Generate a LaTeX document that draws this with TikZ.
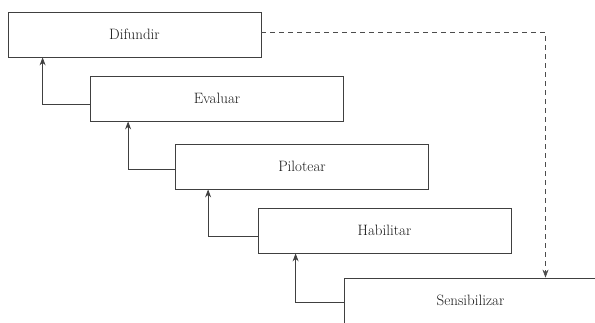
\documentclass[tikz,border=0pt]{standalone}
\usetikzlibrary{arrows.meta}
\begin{document}
\begin{tikzpicture}[
        x=1pt, y=-1pt,
        stage/.style={rectangle, draw=black!75, line width=0.8pt, minimum width=253pt, minimum height=45pt, inner sep=0pt, font=\fontsize{15}{17}\selectfont, text=black!90},
        step edge/.style={draw, line width=0.8pt, black!75, -{Stealth[length=8pt, width=6pt]}},
        dashed edge/.style={draw, dashed, dash pattern=on 5pt off 4pt, line width=0.7pt, black!70, -{Stealth[length=8pt, width=6pt]}},
    ]
	\useasboundingbox (0,0) rectangle (595,322);
	\clip (0,0) rectangle (595,322);
	\node[stage] (difundir) at (134.5,34.5) {Difundir};
	\node[stage] (evaluar) at (217,98.5) {Evaluar};
	\node[stage] (pilotear) at (302,166.5) {Pilotear};
	\node[stage] (habilitar) at (384.5,230.5) {Habilitar};
	\node[stage] (sensibilizar) at (470.5,300.5) {Sensibilizar};
	\draw[step edge] ([yshift=-6pt]evaluar.west) -| ([xshift=35pt]difundir.south west);
	\draw[step edge] ([yshift=-3pt]pilotear.west) -| ([xshift=38pt]evaluar.south west);
	\draw[step edge] ([yshift=-6pt]habilitar.west) -| ([xshift=33pt]pilotear.south west);
	\draw[step edge] ([yshift=-2pt]sensibilizar.west) -| ([xshift=38pt]habilitar.south west);
	\draw[dashed edge] ([yshift=2pt]difundir.east) -| ([xshift=75pt]sensibilizar.north);
    \end{tikzpicture}
\end{document}
